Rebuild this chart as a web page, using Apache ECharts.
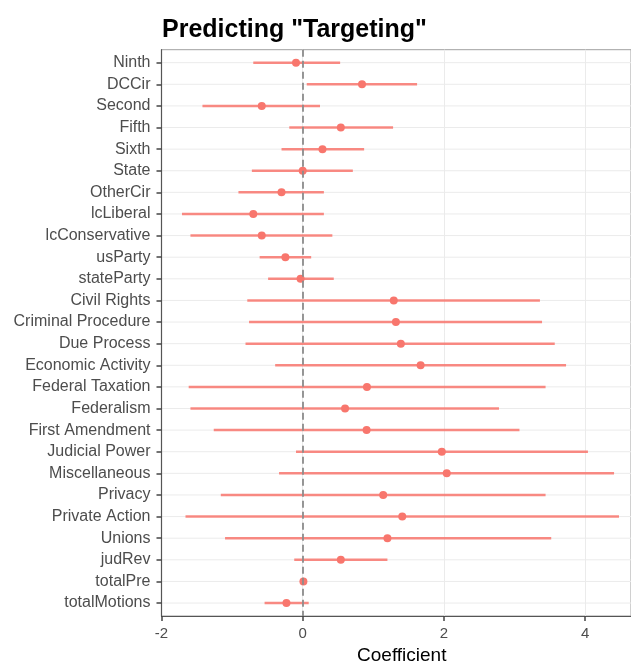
<!DOCTYPE html>
<html>
<head>
<meta charset="utf-8">
<script src="https://cdn.jsdelivr.net/npm/echarts@6/dist/echarts.min.js"></script>
<style>
html,body{margin:0;padding:0;background:#fff;}
#chart{width:631px;height:663px;}
</style>
</head>
<body>
<div id="chart"></div>
<script>
const categories = ["Ninth","DCCir","Second","Fifth","Sixth","State","OtherCir","lcLiberal","lcConservative","usParty","stateParty","Civil Rights","Criminal Procedure","Due Process","Economic Activity","Federal Taxation","Federalism","First Amendment","Judicial Power","Miscellaneous","Privacy","Private Action","Unions","judRev","totalPre","totalMotions"];
const estimates = [-0.095,0.84,-0.58,0.54,0.28,0.0,-0.30,-0.70,-0.58,-0.245,-0.03,1.29,1.32,1.39,1.67,0.91,0.60,0.905,1.97,2.04,1.14,1.41,1.20,0.54,0.01,-0.23];
const lower = [-0.70,0.057,-1.42,-0.19,-0.30,-0.72,-0.91,-1.71,-1.59,-0.61,-0.49,-0.785,-0.76,-0.81,-0.39,-1.615,-1.59,-1.26,-0.095,-0.335,-1.16,-1.66,-1.10,-0.12,-0.005,-0.54];
const upper = [0.53,1.62,0.245,1.28,0.87,0.71,0.30,0.30,0.42,0.12,0.44,3.36,3.39,3.57,3.73,3.44,2.78,3.07,4.04,4.41,3.44,4.48,3.52,1.20,0.025,0.085];
const xTickLabels = [-2,0,2,4];
const titleText = 'Predicting "Targeting"';
const xName = 'Coefficient';

const FONT = "'Liberation Sans', Arial, Helvetica, sans-serif";
const COLOR = '#F8766D';
const idx = categories.map((_, i) => i);

const chart = echarts.init(document.getElementById('chart'), null, {renderer: 'canvas'});
chart.setOption({
  animation: false,
  backgroundColor: '#ffffff',
  title: {
    text: titleText,
    left: 157,
    top: 13,
    textStyle: {fontFamily: FONT, fontSize: 25, fontWeight: 'bold', color: '#000'}
  },
  grid: {
    left: 161.5, right: 0, top: 49.7, bottom: 47,
    outerBoundsMode: 'none', containLabel: false,
    show: true, borderColor: '#a0a0a0', borderWidth: 1
  },
  xAxis: {
    type: 'value', min: -2, max: 4.65, interval: 1,
    name: xName, nameLocation: 'middle', nameGap: 25,
    nameTextStyle: {fontFamily: FONT, fontSize: 19, color: '#000', padding: [0, 0, 0, 11]},
    axisLine: {show: true, onZero: false, lineStyle: {color: '#555', width: 1.2}},
    axisTick: {show: true, length: 5, customValues: xTickLabels, lineStyle: {color: '#444', width: 1.5}},
    axisLabel: {customValues: xTickLabels, fontFamily: FONT, fontSize: 15, color: '#4d4d4d', margin: 10,
      formatter: v => String(v)},
    splitLine: {show: true, lineStyle: {color: '#ebebeb', width: 1}}
  },
  yAxis: {
    type: 'value', min: -0.6, max: categories.length - 1 + 0.6, inverse: true,
    axisLine: {show: true, onZero: false, lineStyle: {color: '#555', width: 1.2}},
    axisTick: {show: true, length: 5, customValues: idx, lineStyle: {color: '#444', width: 1.5}},
    axisLabel: {customValues: idx, fontFamily: FONT, fontSize: 16, color: '#4d4d4d', margin: 11,
      formatter: v => categories[Math.round(v)]},
    splitLine: {show: false}
  },
  series: [
    {
      type: 'custom',
      name: 'grid',
      z: 0,
      silent: true,
      data: idx.map(i => [i]),
      renderItem: function (params, api) {
        const cs = params.coordSys;
        const p = api.coord([0, api.value(0)]);
        return {
          type: 'line',
          shape: {x1: cs.x, y1: p[1], x2: cs.x + cs.width, y2: p[1]},
          style: {stroke: '#ebebeb', lineWidth: 1}
        };
      },
      markLine: {
        silent: true, symbol: 'none', label: {show: false},
        lineStyle: {color: '#8c8c8c', type: [7, 4], width: 1.8},
        data: [{xAxis: 0}]
      }
    },
    {
      type: 'custom',
      name: 'ci',
      z: 3,
      data: idx.map(i => [lower[i], upper[i], i]),
      renderItem: function (params, api) {
        const a = api.coord([api.value(0), api.value(2)]);
        const b = api.coord([api.value(1), api.value(2)]);
        return {
          type: 'line',
          shape: {x1: a[0], y1: a[1], x2: b[0], y2: b[1]},
          style: {stroke: COLOR, lineWidth: 2.5, opacity: 0.85}
        };
      }
    },
    {
      type: 'scatter',
      name: 'estimate',
      z: 4,
      symbol: 'circle',
      symbolSize: 8,
      itemStyle: {color: COLOR, opacity: 1},
      data: idx.map(i => [estimates[i], i])
    }
  ]
});
</script>
</body>
</html>
